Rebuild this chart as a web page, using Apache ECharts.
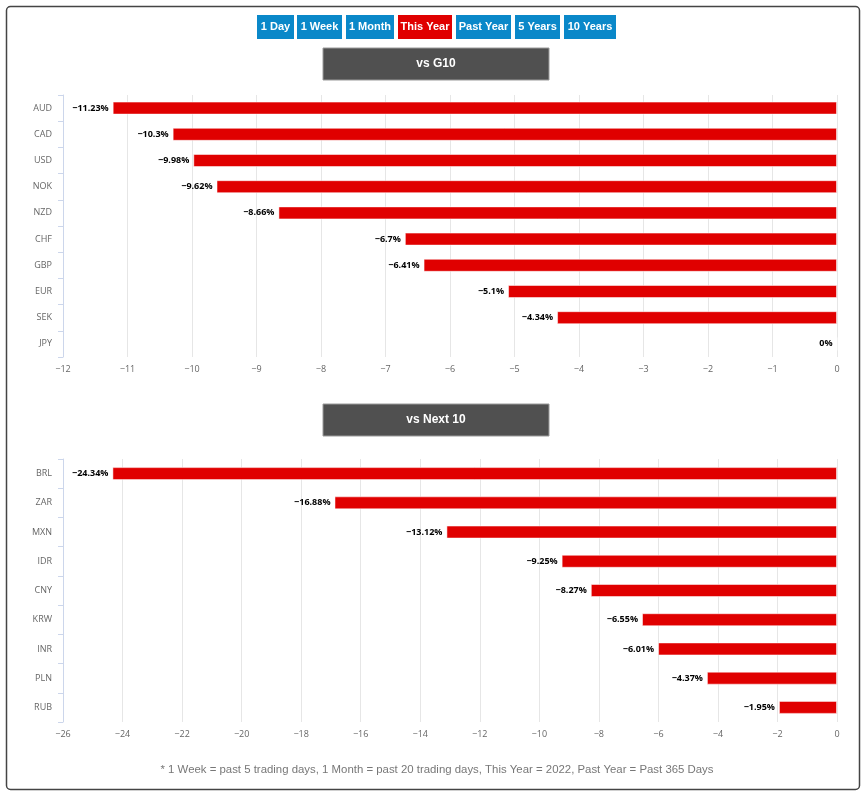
<!DOCTYPE html>
<html>
<head>
<meta charset="utf-8">
<script src="https://cdn.jsdelivr.net/npm/echarts@6/dist/echarts.min.js"></script>
<style>
html,body{margin:0;padding:0;background:#fff;}
#chart{width:866px;height:793px;}
</style>
</head>
<body>
<div id="chart"></div>
<script>
// ---- data ----
var g10Cats = ['AUD','CAD','USD','NOK','NZD','CHF','GBP','EUR','SEK','JPY'];
var g10Vals = [-11.23,-10.3,-9.98,-9.62,-8.66,-6.7,-6.41,-5.1,-4.34,0];
var n10Cats = ['BRL','ZAR','MXN','IDR','CNY','KRW','INR','PLN','RUB'];
var n10Vals = [-24.34,-16.88,-13.12,-9.25,-8.27,-6.55,-6.01,-4.37,-1.95];
var buttonLabels = ['1 Day','1 Week','1 Month','This Year','Past Year','5 Years','10 Years'];
var activeButton = 'This Year';
var panelTitles = ['vs G10','vs Next 10'];
var footnote = '* 1 Week = past 5 trading days, 1 Month = past 20 trading days, This Year = 2022, Past Year = Past 365 Days';

// ---- layout ----
var btnX = [257, 297, 346, 398, 456, 515, 564];
var btnW = [37, 45, 48, 54, 55, 45, 52];
var FONT = '"Open Sans", "Noto Sans", "DejaVu Sans", sans-serif';

function fmtNum(v){ return (v < 0 ? '\u2212' + Math.abs(v) : String(v)); }

var graphics = [];
graphics.push({type:'rect', shape:{x:6.5,y:6.5,width:853,height:783,r:4}, style:{fill:'none',stroke:'#444',lineWidth:1.5}});
buttonLabels.forEach(function(b,i){
  graphics.push({type:'rect', shape:{x:btnX[i],y:15,width:btnW[i],height:24},
    style:{fill: b===activeButton ? '#e00000' : '#0a88c9'}});
  graphics.push({type:'text', x:btnX[i]+btnW[i]/2, y:27,
    style:{text:b, fill:'#fff', font:'bold 11px "Liberation Sans", Arial, sans-serif', align:'center', verticalAlign:'middle'}});
});
var titleY = [48, 404];
panelTitles.forEach(function(t,i){
  graphics.push({type:'rect', shape:{x:323,y:titleY[i],width:226,height:32},
    style:{fill:'#505050', stroke:'#9a9a9a', lineWidth:1}});
  graphics.push({type:'text', x:436, y:titleY[i]+16,
    style:{text:t, fill:'#fff', font:'bold 12px "Liberation Sans", Arial, sans-serif', align:'center', verticalAlign:'middle'}});
});
graphics.push({type:'text', x:437, y:770,
  style:{text:footnote, fill:'#777', font:'11.4px "Liberation Sans", Arial, sans-serif', align:'center', verticalAlign:'middle'}});

function xAxis(idx, min, interval){
  return {
    type:'value', gridIndex:idx, min:min, max:0, interval:interval,
    axisLine:{show:false}, axisTick:{show:false},
    splitLine:{show:true, lineStyle:{color:'#e6e6e6', width:1}},
    axisLabel:{color:'#666', fontSize:9, fontFamily:FONT, margin:8, formatter:fmtNum}
  };
}
function yAxis(idx, cats){
  return {
    type:'category', gridIndex:idx, data:cats, inverse:true, position:'left',
    axisLine:{show:true, onZero:false, lineStyle:{color:'#ccd6eb'}},
    axisTick:{show:true, length:5, lineStyle:{color:'#ccd6eb'}},
    axisLabel:{color:'#666', fontSize:9, fontFamily:FONT, margin:11},
    splitLine:{show:false}
  };
}
function barSeries(idx, vals){
  return {
    type:'bar', xAxisIndex:idx, yAxisIndex:idx, data:vals, barWidth:13,
    itemStyle:{color:'#e00000', borderColor:'rgba(255,255,255,0.5)', borderWidth:1},
    label:{show:true, position:'left', distance:4, color:'#000', fontSize:9, fontWeight:'bold', fontFamily:FONT,
      formatter:function(p){ return fmtNum(p.value) + '%'; }},
    silent:true, animation:false
  };
}

var chart = echarts.init(document.getElementById('chart'), null, {renderer:'canvas'});
chart.setOption({
  backgroundColor:'#fff',
  animation:false,
  grid:[
    {left:63, right:29, top:95, height:262},
    {left:63, right:29, top:459, height:263}
  ],
  xAxis:[xAxis(0,-12,1), xAxis(1,-26,2)],
  yAxis:[yAxis(0,g10Cats), yAxis(1,n10Cats)],
  series:[barSeries(0,g10Vals), barSeries(1,n10Vals)],
  graphic:graphics
});
</script>
</body>
</html>
